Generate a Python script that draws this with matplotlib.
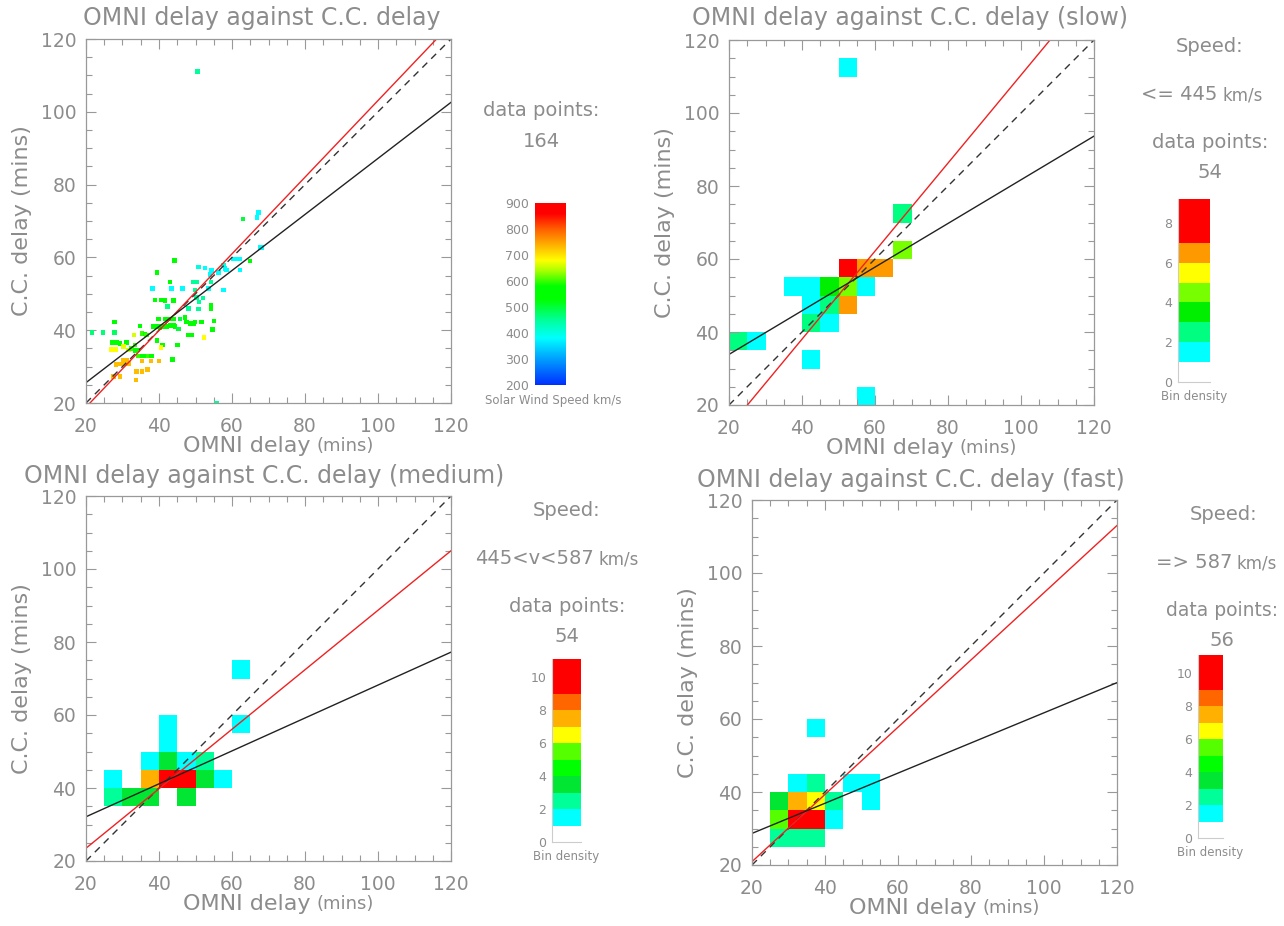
import numpy as np
import matplotlib
matplotlib.use("Agg")
from matplotlib import pyplot as plt
from matplotlib.colors import LinearSegmentedColormap, ListedColormap, BoundaryNorm

W, H = 1284, 926
GREY = "#8c8c8c"
plt.rcParams.update({"font.family": ["DejaVu Sans"], "text.color": GREY})

# ---- all-speed scatter: OMNI delay, C.C. delay, solar wind speed ----
omni_all = [50.5, 55.8, 67.2, 66.8, 63.0, 67.7, 68.2, 64.9, 60.4, 61.3, 62.2, 62.2,
            44.2, 50.8, 52.6, 54.4, 54.0, 56.3, 58.1, 58.5, 57.6,
            39.4, 38.3, 43.5, 46.4, 43.0, 49.4, 50.3, 49.9, 53.5, 54.2, 57.6,
            38.9, 40.7, 41.6, 44.0, 50.3, 51.0, 52.1, 42.3, 48.0, 50.8, 54.2, 54.2,
            39.8, 41.6, 42.6, 43.9, 45.8, 47.1, 47.6, 48.5, 49.4, 49.9, 51.7, 55.1, 27.8, 34.8,
            38.4, 39.4, 40.3, 40.7, 42.1, 43.0, 43.9, 44.4, 45.3, 48.0, 48.9, 54.6, 52.3,
            21.6, 24.7, 27.8, 33.2, 35.3, 36.2, 36.6,
            27.3, 28.4, 29.3, 31.1, 39.4, 40.9, 45.0, 30.2, 33.4, 27.0, 28.2, 31.6, 32.5, 34.3, 33.4, 40.5,
            34.3, 35.3, 36.2, 37.1, 38.0, 43.7,
            30.2, 31.1, 35.3, 37.8, 40.0, 28.2, 29.1, 30.0, 31.0, 31.6,
            36.9, 33.9, 35.3, 27.5, 29.3, 33.7]
cc_all = [111.1, 20.0, 72.3, 71.0, 70.5, 62.8, 62.8, 59.0, 59.6, 59.6, 59.6, 56.5,
          59.2, 57.4, 57.1, 56.4, 55.3, 55.9, 57.0, 56.5, 57.9,
          55.9, 51.5, 51.5, 51.5, 53.2, 53.2, 53.2, 51.0, 51.5, 53.2, 51.0,
          48.3, 48.3, 48.1, 48.1, 49.0, 47.8, 48.8, 46.5, 46.0, 45.8, 46.9, 45.8,
          43.1, 43.1, 43.1, 43.1, 43.1, 43.5, 42.2, 41.9, 41.9, 42.2, 42.2, 42.5, 42.2, 41.2,
          41.0, 41.0, 40.8, 41.0, 41.0, 41.3, 41.3, 41.0, 40.3, 38.7, 38.7, 40.2, 38.0,
          39.3, 39.3, 39.3, 38.7, 39.1, 39.0, 38.7,
          36.6, 36.6, 36.4, 36.6, 37.1, 35.9, 35.9, 35.5, 35.9, 34.7, 34.7, 34.6, 35.0, 34.6, 34.4, 35.2,
          32.9, 32.9, 32.9, 32.9, 32.9, 32.0,
          31.8, 31.8, 31.5, 31.5, 31.5, 30.5, 30.7, 30.7, 30.9, 30.9,
          29.2, 28.6, 28.6, 27.2, 27.2, 26.3]
speed_all = [450, 450, 380, 380, 500, 380, 380, 540, 380, 380, 380, 380,
             540, 400, 380, 380, 380, 380, 380, 380, 400,
             540, 380, 380, 380, 540, 450, 450, 450, 380, 450, 380,
             540, 540, 540, 540, 450, 450, 450, 460, 450, 450, 540, 540,
             540, 540, 540, 540, 500, 540, 540, 540, 540, 540, 540, 540, 540, 540,
             540, 540, 540, 560, 540, 540, 540, 540, 500, 540, 540, 540, 680,
             470, 470, 480, 660, 600, 560, 600,
             540, 540, 540, 540, 540, 540, 540, 670, 600, 680, 680, 660, 600, 560, 560, 680,
             600, 580, 580, 600, 580, 540,
             730, 730, 730, 730, 730, 730, 730, 730, 730, 730,
             730, 730, 730, 730, 730, 730]

# ---- binned counts (5 min bins, lower-left corners) per speed class ----
slow_x = [50, 65, 65, 50, 55, 60, 35, 40, 45, 50, 55, 40, 45, 50, 40, 45, 20, 25, 40, 55]
slow_y = [110, 70, 60, 55, 55, 55, 50, 50, 50, 50, 50, 45, 45, 45, 40, 40, 35, 35, 30, 20]
slow_n = [1, 2, 4, 8, 6, 6, 1, 1, 3, 4, 1, 1, 2, 6, 2, 1, 2, 1, 1, 1]

med_x = [60, 60, 40, 40, 35, 40, 45, 50, 25, 35, 40, 45, 50, 55, 25, 30, 35, 45]
med_y = [70, 55, 55, 50, 45, 45, 45, 45, 40, 40, 40, 40, 40, 40, 35, 35, 35, 35]
med_n = [1, 1, 1, 1, 1, 3, 1, 2, 1, 7, 10, 10, 3, 1, 2, 3, 3, 3]

fast_x = [35, 30, 35, 45, 50, 25, 30, 35, 40, 50, 25, 30, 35, 40, 25, 30, 35]
fast_y = [55, 40, 40, 40, 40, 35, 35, 35, 35, 35, 30, 30, 30, 30, 25, 25, 25]
fast_n = [1, 1, 2, 1, 1, 3, 7, 6, 2, 1, 5, 10, 9, 1, 2, 2, 2]

# fit lines (slope, intercept): red and black, per panel
red_fit = {"all": (1.053, -2.2), "slow": (1.206, -10.2), "med": (0.815, 7.2), "fast": (0.921, 2.5)}
blk_fit = {"all": (0.77, 10.2), "slow": (0.598, 21.9), "med": (0.451, 23.1), "fast": (0.413, 20.4)}

speed_cmap = LinearSegmentedColormap.from_list("speed", [
    (0.0, "#0030ff"), (0.143, "#00a0ff"), (0.257, "#00ffff"), (0.357, "#00ff99"),
    (0.471, "#00ff00"), (0.543, "#00ff00"), (0.629, "#aaff00"), (0.686, "#ffff00"),
    (0.771, "#ffb000"), (0.857, "#ff6000"), (0.943, "#ff0000"), (1.0, "#ff0000")])

slow_bounds = [0, 1, 2, 3, 4, 5, 6, 7, 9.2]
slow_colors = ["#ffffff", "#00ffff", "#00ff80", "#00ee00", "#77ff00", "#ffff00", "#ff9900", "#ff0000"]
fast_bounds = [0, 1, 2, 3, 4, 5, 6, 7, 8, 9, 11.1]
fast_colors = ["#ffffff", "#00ffff", "#00ff99", "#00e633", "#00ff00", "#55ff00",
               "#ffff00", "#ffb000", "#ff6600", "#ff0000"]

fig = plt.figure(figsize=(W / 100, H / 100), dpi=100)


def px_axes(x0, y0, x1, y1):
    return fig.add_axes([x0 / W, 1 - y1 / H, (x1 - x0) / W, (y1 - y0) / H])


def ftext(x, y, s, size=14, ha="center"):
    fig.text(x / W, 1 - y / H, s, fontsize=size, ha=ha, va="center")


def style_panel(ax, key, title, title_xy):
    ax.set_xlim(20, 120)
    ax.set_ylim(20, 120)
    ax.set_xticks(np.arange(20, 121, 20))
    ax.set_yticks(np.arange(20, 121, 20))
    ax.set_xticks(np.arange(20, 121, 5), minor=True)
    ax.set_yticks(np.arange(20, 121, 5), minor=True)
    ax.tick_params(which="both", direction="in", top=True, right=True, color="#999999",
                   labelcolor=GREY, labelsize=13.5)
    ax.tick_params(which="major", length=7, width=0.8)
    ax.tick_params(which="minor", length=4, width=0.8)
    ax.tick_params(axis="x", pad=10)
    ax.tick_params(axis="y", pad=7)
    for s in ax.spines.values():
        s.set_color("#999999")
        s.set_linewidth(0.9)
    xs = np.array([20, 120])
    ax.plot(xs, xs, ls=(0, (5, 4)), color="#333333", lw=1)
    m, c = red_fit[key]
    ax.plot(xs, m * xs + c, color="#ee2222", lw=1)
    m, c = blk_fit[key]
    ax.plot(xs, m * xs + c, color="#222222", lw=1)
    ftext(title_xy[0], title_xy[1], title, size=17)
    ax.text(0.616, -0.118, "OMNI delay", transform=ax.transAxes, fontsize=16, ha="right", va="center")
    ax.text(0.632, -0.118, "(mins)", transform=ax.transAxes, fontsize=13, ha="left", va="center")
    ax.text(-0.175, 0.5, "C.C. delay (mins)", transform=ax.transAxes, fontsize=16,
            rotation=90, ha="center", va="center")


def draw_bins(ax, bx, by, bn, bounds, colors):
    grid = np.zeros((20, 20))
    for x, y, n in zip(bx, by, bn):
        grid[(y - 20) // 5, (x - 20) // 5] = n
    grid = np.ma.masked_equal(grid, 0)
    edges = np.arange(20, 121, 5)
    ax.pcolormesh(edges, edges, grid, cmap=ListedColormap(colors),
                  norm=BoundaryNorm(bounds, len(colors)), zorder=1)


def bin_bar(cax, bounds, colors, ticks):
    for lo, hi, col in zip(bounds[:-1], bounds[1:], colors):
        cax.bar(0.5, hi - lo, bottom=lo, width=1, color=col, linewidth=0)
    cax.set_xlim(0, 1)
    cax.set_ylim(0, bounds[-1])
    cax.set_xticks([])
    cax.set_yticks(ticks)
    cax.tick_params(axis="y", length=0, labelsize=9, labelcolor=GREY, pad=4)
    for k in ("top", "right"):
        cax.spines[k].set_visible(False)
    for k in ("left", "bottom"):
        cax.spines[k].set_color("#cccccc")
        cax.spines[k].set_linewidth(0.8)
    cax.text(0.5, -0.08, "Bin density", transform=cax.transAxes, fontsize=8.5,
             ha="center", va="center")


# top left: scatter coloured by speed
ax1 = px_axes(86, 39, 451, 403)
ax1.scatter(omni_all, cc_all, c=speed_all, cmap=speed_cmap, vmin=200, vmax=900,
            marker="s", s=11, linewidths=0, zorder=2)
style_panel(ax1, "all", "OMNI delay against C.C. delay", (262, 18))
ftext(541, 111, "data points:")
ftext(541, 141, "164")

cb1 = px_axes(535, 203, 566, 385)
cb1.imshow(np.linspace(200, 900, 256).reshape(-1, 1), cmap=speed_cmap, origin="lower",
           extent=[0, 1, 200, 900], aspect="auto")
cb1.set_xticks([])
cb1.set_yticks(np.arange(200, 901, 100))
cb1.tick_params(axis="y", length=0, labelsize=9, labelcolor=GREY, pad=4)
for s in cb1.spines.values():
    s.set_visible(False)
cb1.text(0.6, -0.085, "Solar Wind Speed km/s", transform=cb1.transAxes, fontsize=8.5,
         ha="center", va="center")

# top right: slow wind
ax2 = px_axes(729, 40, 1094, 405)
draw_bins(ax2, slow_x, slow_y, slow_n, slow_bounds, slow_colors)
style_panel(ax2, "slow", "OMNI delay against C.C. delay (slow)", (910, 18))
ftext(1210, 47, "Speed:")
ftext(1217, 95, "<= 445", ha="right")
ftext(1223, 96, "km/s", size=12, ha="left")
ftext(1210, 143, "data points:")
ftext(1210, 173, "54")
bin_bar(px_axes(1178, 199, 1210, 382), slow_bounds, slow_colors, [0, 2, 4, 6, 8])

# bottom left: medium wind
ax3 = px_axes(86, 496, 451, 861)
draw_bins(ax3, med_x, med_y, med_n, fast_bounds, fast_colors)
style_panel(ax3, "med", "OMNI delay against C.C. delay (medium)", (264, 476))
ftext(567, 510, "Speed:")
ftext(594, 558, "445<v<587", ha="right")
ftext(599, 559, "km/s", size=12, ha="left")
ftext(567, 606, "data points:")
ftext(567, 636, "54")
bin_bar(px_axes(552, 659, 581, 842), fast_bounds, fast_colors, [0, 2, 4, 6, 8, 10])

# bottom right: fast wind
ax4 = px_axes(752, 500, 1117, 865)
draw_bins(ax4, fast_x, fast_y, fast_n, fast_bounds, fast_colors)
style_panel(ax4, "fast", "OMNI delay against C.C. delay (fast)", (911, 480))
ftext(1224, 515, "Speed:")
ftext(1232, 563, "=> 587", ha="right")
ftext(1237, 564, "km/s", size=12, ha="left")
ftext(1222, 611, "data points:", size=13.5)
ftext(1222, 641, "56")
bin_bar(px_axes(1198, 655, 1223, 838), fast_bounds, fast_colors, [0, 2, 4, 6, 8, 10])

fig.savefig("out.png", dpi=100, facecolor="white")
